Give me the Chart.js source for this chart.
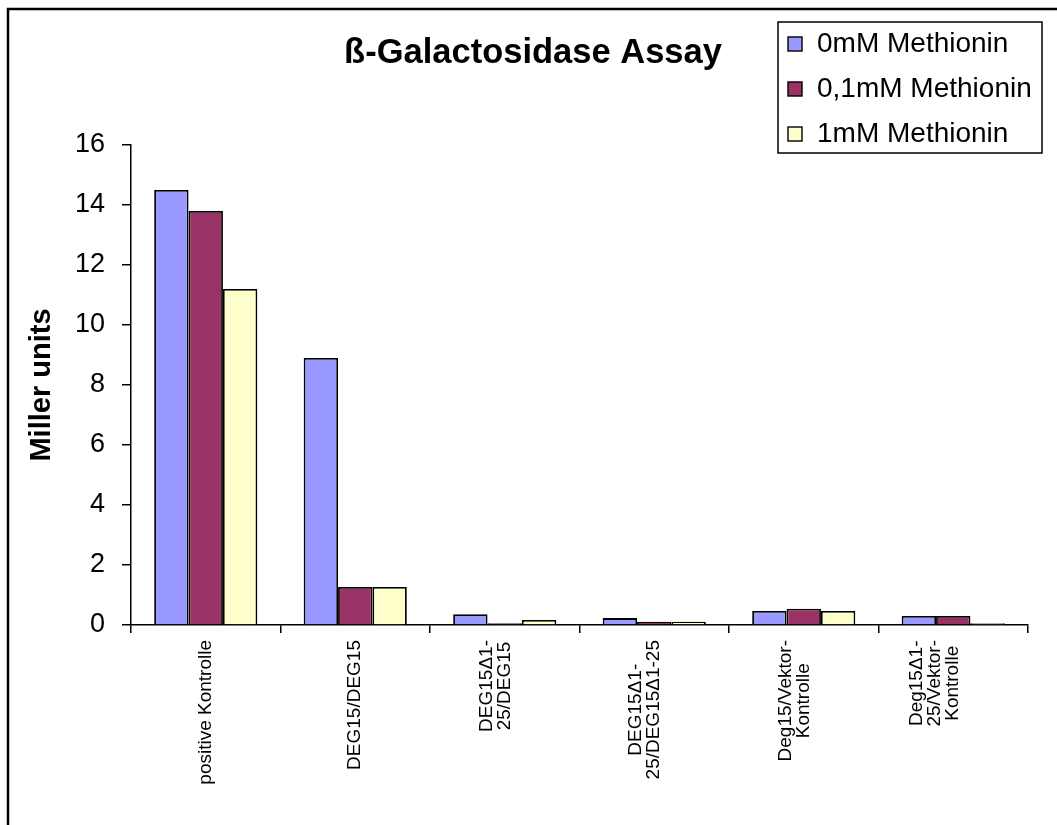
<!DOCTYPE html>
<html>
<head>
<meta charset="utf-8">
<title>ß-Galactosidase Assay</title>
<script src="https://cdn.jsdelivr.net/npm/chart.js@4.4.0/dist/chart.umd.min.js"></script>
<style>
  html, body { margin: 0; padding: 0; background: #ffffff; }
  canvas { display: block; }
</style>
</head>
<body>
<canvas id="chart" width="1057" height="825"></canvas>
<script>
// Constructs (multi-line labels as drawn under the axis)
const categories = [
  ['positive Kontrolle'],
  ['DEG15/DEG15'],
  ['DEG15Δ1-', '25/DEG15'],
  ['DEG15Δ1-', '25/DEG15Δ1-25'],
  ['Deg15/Vektor-', 'Kontrolle'],
  ['Deg15Δ1-', '25/Vektor-', 'Kontrolle']
];

const seriesNames = ['0mM Methionin', '0,1mM Methionin', '1mM Methionin'];

// Miller units per construct
const met0mM  = [14.5, 8.9, 0.36, 0.23, 0.47, 0.30];
const met01mM = [13.8, 1.27, 0.06, 0.11, 0.54, 0.30];
const met1mM  = [11.2, 1.27, 0.17, 0.11, 0.47, 0.06];

const yMin = 0;
const yMax = 16;
const yStep = 2;

const chartTitle = 'ß-Galactosidase Assay';
const yTitle = 'Miller units';

const seriesColors = ['#9999FF', '#993366', '#FFFFCC'];
const FONT = '"Liberation Sans", Arial, Helvetica, sans-serif';

// Outer frame, title, rotated category labels and boxed legend
const decorations = {
  id: 'decorations',
  afterDraw(chart) {
    const ctx = chart.ctx;
    const xs = chart.scales.x;

    // frame
    ctx.save();
    ctx.strokeStyle = '#000';
    ctx.lineWidth = 2.5;
    ctx.strokeRect(8, 9, 1200, 1000);
    ctx.restore();

    // title
    ctx.save();
    ctx.fillStyle = '#000';
    ctx.font = 'bold 34.5px ' + FONT;
    ctx.textAlign = 'center';
    ctx.textBaseline = 'middle';
    ctx.fillText(chartTitle, 533, 53);
    ctx.restore();

    // category labels: rotated, lines centred on each other, last line on the tick
    ctx.save();
    ctx.fillStyle = '#000';
    ctx.font = '19px ' + FONT;
    const lh = 18;
    chart.data.labels.forEach((lines, i) => {
      const px = xs.getPixelForTick(i);
      const maxW = Math.max(...lines.map(l => ctx.measureText(l).width));
      const top = xs.top + 15;
      const n = lines.length;
      lines.forEach((line, j) => {
        ctx.save();
        ctx.translate(px - (n - 1 - j) * lh, top + maxW / 2);
        ctx.rotate(-Math.PI / 2);
        ctx.textAlign = 'center';
        ctx.textBaseline = 'middle';
        ctx.fillText(line, 0, 0);
        ctx.restore();
      });
    });
    ctx.restore();

    // legend box
    ctx.save();
    ctx.fillStyle = '#fff';
    ctx.fillRect(778, 22, 264, 131);
    ctx.strokeStyle = '#000';
    ctx.lineWidth = 1.5;
    ctx.strokeRect(778, 22, 264, 131);
    const rows = [44, 89, 134];
    ctx.font = '28px ' + FONT;
    ctx.textAlign = 'left';
    ctx.textBaseline = 'middle';
    chart.data.datasets.forEach((ds, k) => {
      const cy = rows[k];
      ctx.fillStyle = ds.backgroundColor;
      ctx.fillRect(788, cy - 7, 14, 14);
      ctx.strokeStyle = '#000';
      ctx.lineWidth = 1.4;
      ctx.strokeRect(788, cy - 7, 14, 14);
      ctx.fillStyle = '#000';
      ctx.fillText(ds.label, 817, cy);
    });
    ctx.restore();
  }
};

const makeSet = (label, data, color) => ({
  label,
  data,
  backgroundColor: color,
  borderColor: '#000',
  borderWidth: 1.8,
  categoryPercentage: 0.69,
  barPercentage: 1.0
});

new Chart(document.getElementById('chart'), {
  type: 'bar',
  data: {
    labels: categories,
    datasets: [
      makeSet(seriesNames[0], met0mM, seriesColors[0]),
      makeSet(seriesNames[1], met01mM, seriesColors[1]),
      makeSet(seriesNames[2], met1mM, seriesColors[2])
    ]
  },
  options: {
    responsive: false,
    animation: false,
    layout: { padding: { top: 145, left: 10, right: 29, bottom: 0 } },
    plugins: {
      legend: { display: false },
      title: { display: false },
      tooltip: { enabled: false }
    },
    scales: {
      x: {
        ticks: { display: false },
        grid: {
          offset: true,
          drawOnChartArea: false,
          drawTicks: true,
          tickLength: 8,
          color: '#000',
          lineWidth: 1.5
        },
        border: { display: true, color: '#000', width: 1.5 },
        afterFit(scale) { scale.height = 200; }
      },
      y: {
        min: yMin,
        max: yMax,
        ticks: {
          stepSize: yStep,
          color: '#000',
          padding: 17,
          font: { family: FONT, size: 27 }
        },
        grid: {
          drawOnChartArea: false,
          drawTicks: true,
          tickLength: 9,
          color: '#000',
          lineWidth: 1.5
        },
        border: { display: true, color: '#000', width: 1.5 },
        title: {
          display: true,
          text: yTitle,
          color: '#000',
          font: { family: FONT, size: 29, weight: 'bold' },
          padding: { top: 15, bottom: 0 }
        },
        afterFit(scale) { scale.width = 121; }
      }
    }
  },
  plugins: [decorations]
});
</script>
</body>
</html>
